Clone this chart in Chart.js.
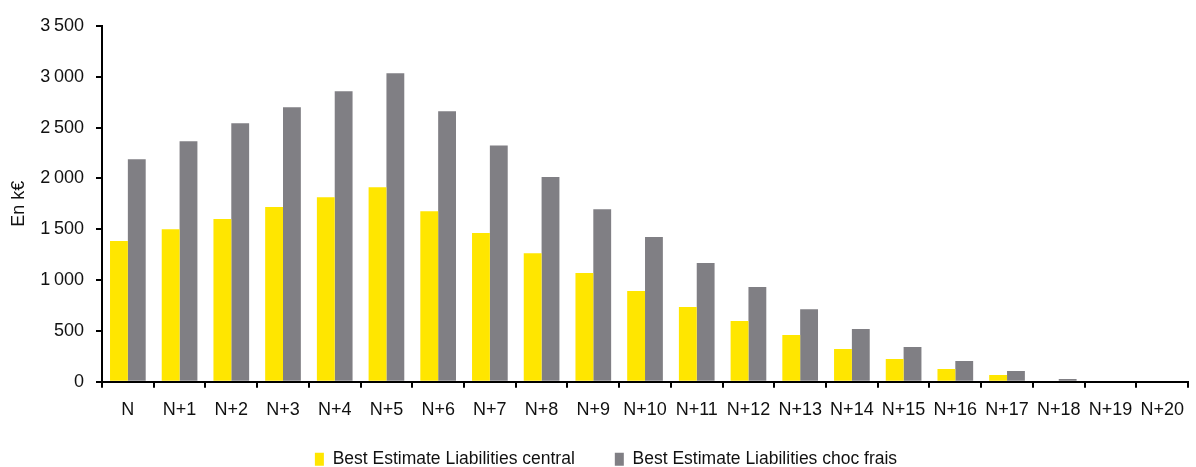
<!DOCTYPE html>
<html>
<head>
<meta charset="utf-8">
<script src="https://cdn.jsdelivr.net/npm/chart.js@4/dist/chart.umd.min.js"></script>
<style>
  html, body { margin: 0; padding: 0; background: #fff; }
</style>
</head>
<body>
<canvas id="beChart" width="1196" height="467"></canvas>
<script>
const years = ["N", "N+1", "N+2", "N+3", "N+4", "N+5", "N+6", "N+7", "N+8", "N+9", "N+10",
  "N+11", "N+12", "N+13", "N+14", "N+15", "N+16", "N+17", "N+18", "N+19", "N+20"];

// Best Estimate Liabilities, en k€
const beCentral = [1385, 1501, 1600, 1718, 1816, 1914, 1678, 1462, 1265, 1069, 892,
  735, 597, 460, 321, 223, 125, 66, 0, 0, 0];
const beChocFrais = [2190, 2366, 2543, 2701, 2858, 3035, 2661, 2325, 2013, 1697, 1423,
  1167, 931, 714, 518, 341, 204, 105, 27, 0, 0];

const yTicks = [0, 500, 1000, 1500, 2000, 2500, 3000, 3500];

const FONT = "'Liberation Sans', Arial, sans-serif";
const TEXT = "#111";

// thousands separated by a thin space: 3 500
function fmt(v) {
  return String(v).replace(/\B(?=(\d{3})+(?!\d))/g, "\u2009");
}

// legend padding is wide (item spacing), so pull the row back up, move it right
// and let its box reach the canvas bottom so nothing gets clipped
const legendShift = {
  id: "legendShift",
  afterLayout(chart) {
    const lg = chart.legend;
    lg.top -= 7;
    lg.bottom = chart.height;
    lg.height = lg.bottom - lg.top;
    lg.left += 9; lg.right += 9;
  }
};

const ctx = document.getElementById("beChart").getContext("2d");
new Chart(ctx, {
  type: "bar",
  data: {
    labels: years,
    datasets: [
      {
        label: "Best Estimate Liabilities central",
        data: beCentral,
        backgroundColor: "#ffe600",
        borderWidth: 0,
      },
      {
        label: "Best Estimate Liabilities choc frais",
        data: beChocFrais,
        backgroundColor: "#807f84",
        borderWidth: 0,
      },
    ],
  },
  options: {
    responsive: false,
    animation: false,
    devicePixelRatio: 1,
    layout: { padding: { top: 26, right: 2, left: 0, bottom: 0 } },
    datasets: {
      bar: { categoryPercentage: 0.69, barPercentage: 1.0 },
    },
    scales: {
      x: {
        afterFit(scale) { scale.height = 35.8; },
        grid: {
          drawOnChartArea: false,
          drawTicks: true,
          tickLength: 6,
          color: "#000",
          lineWidth: 2,
        },
        border: { color: "#000", width: 2 },
        ticks: {
          color: TEXT,
          padding: 12,
          maxRotation: 0,
          autoSkip: false,
          font: { family: FONT, size: 18 },
        },
      },
      y: {
        min: 0,
        max: 3500,
        afterFit(scale) { scale.width = 102; },
        afterBuildTicks(scale) {
          scale.ticks = yTicks.map((v) => ({ value: v }));
        },
        grid: {
          drawOnChartArea: false,
          drawTicks: true,
          tickLength: 6,
          color: "#000",
          lineWidth: 2,
        },
        border: { color: "#000", width: 2 },
        ticks: {
          color: TEXT,
          padding: 12,
          font: { family: FONT, size: 18 },
          callback: (v) => fmt(v),
        },
        title: {
          display: true,
          text: "En k€",
          color: TEXT,
          padding: { top: 8, bottom: 0 },
          font: { family: FONT, size: 18 },
        },
      },
    },
    plugins: {
      tooltip: { enabled: false },
      legend: {
        position: "bottom",
        maxHeight: 49.5,
        labels: {
          boxWidth: 9,
          boxHeight: 13,
          padding: 40,
          color: TEXT,
          font: { family: FONT, size: 17.5 },
        },
      },
    },
  },
  plugins: [legendShift],
});
</script>
</body>
</html>
